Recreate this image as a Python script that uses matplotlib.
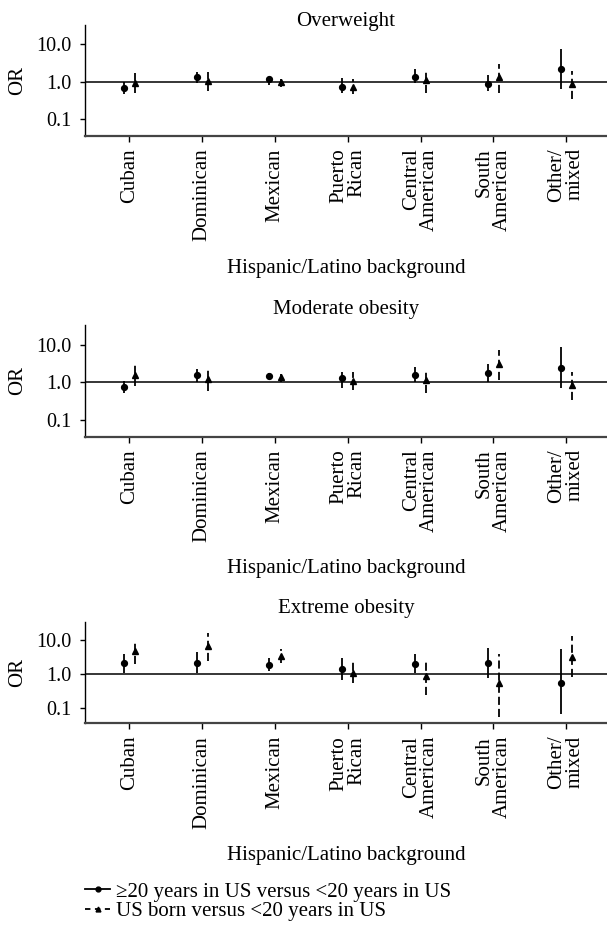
import matplotlib
matplotlib.use("Agg")
import matplotlib.pyplot as plt
from matplotlib.lines import Line2D
from matplotlib.ticker import FixedLocator, FixedFormatter, NullLocator
import numpy as np

plt.rcParams['font.family'] = ['Liberation Serif', 'DejaVu Serif']

categories = ["Cuban", "Dominican", "Mexican", "Puerto\nRican", "Central\nAmerican",
              "South\nAmerican", "Other/\nmixed"]
panel_titles = ["Overweight", "Moderate obesity", "Extreme obesity"]
ytick_vals = [0.1, 1.0, 10.0]
ytick_labels = ["0.1", "1.0", "10.0"]
legend_labels = ["\u226520 years in US versus <20 years in US",
                 "US born versus <20 years in US"]

# >=20 years in US versus <20 years in US
ow_a_est = [0.70, 1.34, 1.17, 0.74, 1.37, 0.86, 2.15]
ow_a_lo = [0.46, 0.90, 0.81, 0.49, 0.90, 0.57, 0.63]
ow_a_hi = [1.00, 1.83, 1.29, 1.29, 2.15, 1.49, 7.4]
# US born versus <20 years in US
ow_b_est = [0.95, 1.05, 0.99, 0.74, 1.12, 1.37, 0.86]
ow_b_lo = [0.49, 0.55, 0.74, 0.46, 0.49, 0.49, 0.34]
ow_b_hi = [1.76, 1.83, 1.17, 1.22, 1.83, 3.06, 1.94]

mo_a_est = [0.77, 1.57, 1.48, 1.28, 1.57, 1.81, 2.36]
mo_a_lo = [0.51, 1.04, 1.20, 0.69, 1.04, 1.04, 0.72]
mo_a_hi = [1.08, 2.27, 1.81, 1.85, 2.50, 3.00, 8.9]
mo_b_est = [1.57, 1.20, 1.42, 1.09, 1.15, 3.08, 0.85]
mo_b_lo = [0.81, 0.60, 1.04, 0.62, 0.51, 1.15, 0.34]
mo_b_hi = [2.90, 2.22, 1.63, 1.85, 1.92, 7.3, 1.85]

ex_a_est = [2.10, 2.10, 1.88, 1.40, 1.96, 2.10, 0.53]
ex_a_lo = [1.05, 1.05, 1.20, 0.67, 1.05, 0.76, 0.068]
ex_a_hi = [4.0, 4.5, 2.87, 2.87, 3.85, 5.8, 5.4]
ex_b_est = [4.6, 6.45, 3.44, 1.05, 0.85, 0.56, 3.2]
ex_b_lo = [1.96, 2.35, 2.10, 0.53, 0.24, 0.054, 0.80]
ex_b_hi = [7.9, 15.8, 5.6, 2.2, 2.57, 3.85, 13.3]

panels = [
    (ow_a_est, ow_a_lo, ow_a_hi, ow_b_est, ow_b_lo, ow_b_hi),
    (mo_a_est, mo_a_lo, mo_a_hi, mo_b_est, mo_b_lo, mo_b_hi),
    (ex_a_est, ex_a_lo, ex_a_hi, ex_b_est, ex_b_lo, ex_b_hi),
]

W, H = 607, 927
fig = plt.figure(figsize=(W / 100, H / 100), dpi=100)

# axes boxes in pixels: (top, bottom)
boxes = [(25, 135.7), (325.2, 436.7), (622.3, 723.3)]
title_base = [26, 314, 613]
xlabel_base = [273, 573, 860]
left_px = 85
FS = 15

x = np.arange(len(categories))
off = 0.078
dash = (0, (4.5, 2.2))

for i, (box, data) in enumerate(zip(boxes, panels)):
    top, bot = box
    ax = fig.add_axes([left_px / W, 1 - bot / H, 1 - left_px / W, (bot - top) / H])
    a_est, a_lo, a_hi, b_est, b_lo, b_hi = data
    ax.set_yscale('log')
    ax.set_ylim(0.036, 33)
    ax.set_xlim(-0.61, 6.56)
    ax.axhline(1.0, color='black', lw=1.1, zorder=1)
    ax.vlines(x - off, a_lo, a_hi, colors='black', lw=1.3, zorder=2)
    ax.plot(x - off, a_est, 'o', color='black', ms=4.2, zorder=3)
    ax.vlines(x + off, b_lo, b_hi, colors='black', lw=1.3, linestyles=[dash], zorder=2)
    ax.plot(x + off, b_est, '^', color='black', ms=4.2, zorder=3)

    ax.yaxis.set_major_locator(FixedLocator(ytick_vals))
    ax.yaxis.set_major_formatter(FixedFormatter(ytick_labels))
    ax.yaxis.set_minor_locator(NullLocator())
    ax.set_xticks(x)
    ax.set_xticklabels(categories, rotation=90, ha='center', va='top',
                       multialignment='right', fontsize=FS, linespacing=0.95)
    ax.tick_params(axis='y', labelsize=FS - 0.5, length=3.5, width=1.0, pad=6, direction='out')
    ax.tick_params(axis='x', length=4, width=1.0, pad=5, direction='out')
    for s in ['top', 'right']:
        ax.spines[s].set_visible(False)
    ax.spines['left'].set_linewidth(1.0)
    ax.spines['bottom'].set_linewidth(1.6)
    ax.spines['bottom'].set_color('#444444')

    fig.text(346 / W, 1 - title_base[i] / H, panel_titles[i], ha='center',
             va='baseline', fontsize=FS)
    fig.text(346 / W, 1 - xlabel_base[i] / H, "Hispanic/Latino background",
             ha='center', va='baseline', fontsize=FS)
    fig.text(18 / W, 1 - (top + bot) / 2 / H, "OR", rotation=90, ha='center',
             va='center', fontsize=FS)

handles = [Line2D([], [], color='black', lw=1.3, marker='o', ms=3.5, linestyle='-'),
           Line2D([], [], color='black', lw=1.3, marker='^', ms=3.5, linestyle=(0, (3, 2.5)))]
fig.legend(handles, legend_labels, loc='upper left',
           bbox_to_anchor=(85 / W, 1 - 882 / H), frameon=False, fontsize=FS,
           handlelength=1.2, handletextpad=0.28, labelspacing=0.0,
           borderpad=0, borderaxespad=0)

fig.savefig("out.png", dpi=100)
